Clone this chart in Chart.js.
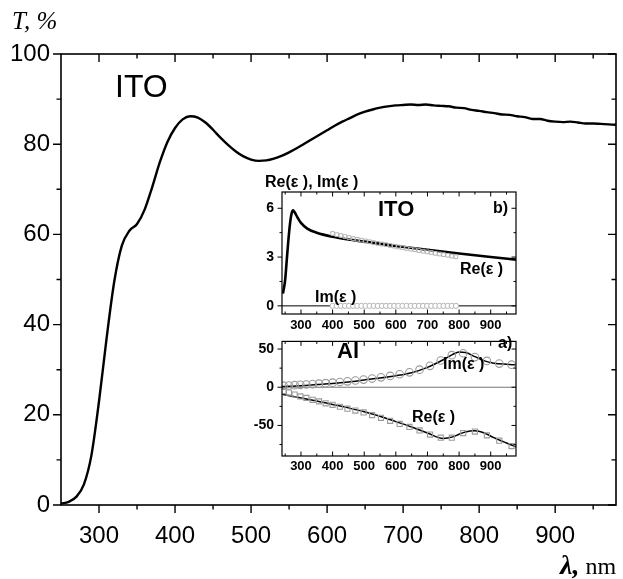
<!DOCTYPE html>
<html>
<head>
<meta charset="utf-8">
<script src="https://cdn.jsdelivr.net/npm/chart.js@4.4.1/dist/chart.umd.min.js"></script>
<style>
  html,body{margin:0;padding:0;background:#fff;}
  #wrap{position:relative;width:623px;height:579px;overflow:hidden;}
  canvas{position:absolute;}
</style>
</head>
<body>
<div id="wrap">
  <canvas id="main" width="623" height="579" style="left:0;top:0"></canvas>
  <canvas id="insB" width="310" height="175" style="left:230px;top:165px"></canvas>
  <canvas id="insA" width="310" height="155" style="left:230px;top:325px"></canvas>
</div>
<script>
// ---------------- DATA ----------------
// Main chart: transmittance of ITO film
const wavelengths = [250,260,270,280,290,300,310,320,330,340,350,360,370,380,390,400,410,420,430,440,
  450,460,470,480,490,500,510,520,530,540,550,560,570,580,590,600,610,620,630,640,
  650,660,670,680,690,700,710,720,730,740,750,760,770,780,790,800,810,820,830,840,
  850,860,870,880,890,900,910,920,930,940,950,960,970,980];
const transmittance = [0.3,0.7,1.8,4.5,11,23,37,49.5,57.5,60.8,62.3,65.5,70.5,76,80.5,83.6,85.5,86.2,85.9,84.8,
  83.2,81.4,79.8,78.4,77.3,76.6,76.3,76.4,76.8,77.4,78.2,79.1,80.1,81.1,82.1,83.1,84.1,85.0,85.8,86.6,
  87.2,87.7,88.1,88.4,88.6,88.7,88.8,88.7,88.8,88.6,88.5,88.4,88.1,88.0,87.6,87.4,87.1,86.9,86.6,86.5,
  86.2,86.0,85.6,85.6,85.2,85.0,84.9,85.0,84.8,84.6,84.6,84.5,84.4,84.3];
const mainXTicks = [300,400,500,600,700,800,900];
const mainXMinor = [350,450,550,650,750,850,950];
const mainYTicks = [0,20,40,60,80,100];
const mainYMinor = [10,30,50,70,90];

// Inset b: ITO permittivity
const itoModelLam = [243,250,255,260,265,270,275,280,290,300,320,350,400,450,500,600,700,800,900,980];
const itoModelRe  = [0.75,1.6,2.8,4.0,5.0,5.65,5.87,5.75,5.4,5.1,4.75,4.5,4.25,4.08,3.95,3.68,3.45,3.22,3.0,2.84];
const itoExpLam = [400,413,426,439,452,465,478,491,504,517,530,543,556,569,582,595,608,621,634,647,
  660,673,686,699,712,725,738,751,764,777,790];
const itoExpRe  = [4.45,4.38,4.32,4.26,4.2,4.14,4.09,4.04,3.99,3.94,3.89,3.84,3.8,3.76,3.71,3.67,3.62,3.58,3.53,3.49,
  3.45,3.4,3.36,3.32,3.28,3.23,3.19,3.15,3.11,3.06,3.02];
const itoExpIm  = [0,0,0,0,0,0,0,0,0,0,0,0,0,0,0,0,0,0,0,0,0,0,0,0,0,0,0,0,0,0,0];
const insBYTicks = [0,3,6];
const insBYMinor = [1.5,4.5];

// Inset a: Al permittivity
const alModelLam = [240,300,350,400,450,500,550,600,650,700,750,780,800,820,850,880,910,950,980];
const alModelIm  = [1,2,3.5,5,7,9.5,12,15,19,26,36,43,46,45.5,40,34.5,31.5,30,29.3];
const alModelRe  = [-9,-14,-18,-22.5,-27,-32,-38,-45,-52,-60,-67,-65,-61.5,-58.5,-57,-60,-66,-73,-78];
const alExpLam = [245,262,280,298,317,337,357,378,400,423,447,472,498,525,553,582,612,643,675,708,
  742,777,813,850,888,927,966];
const alExpIm  = [2,2.3,2.7,3.1,3.6,4.1,4.7,5.3,6,6.8,7.7,8.8,10,11.4,13,14.8,17,19.5,23,28,
  35,42,44.5,39.5,34.5,31,29.5];
const alExpRe  = [-5,-7,-9.5,-12,-14,-16.5,-18.5,-21,-23,-25.5,-28,-30.5,-33,-36.5,-40,-44,-48,-52,-56.5,-62,
  -66,-66,-60,-58,-63,-70,-77];
const insAYTicks = [-50,0,50];
const insAYMinor = [-75,-25,25];
const insXTicks = [300,400,500,600,700,800,900];
const insXMinor = [250,350,450,550,650,750,850,950];

// ---------------- PLUGINS ----------------
const frameTicks = {
  id: 'frameTicks',
  beforeDatasetsDraw(chart, args, o) {
    if (!o.zeroLine) return;
    const {ctx, chartArea: a, scales} = chart;
    const y = scales.y.getPixelForValue(0);
    ctx.save();
    ctx.strokeStyle = o.zeroColor || '#000';
    ctx.lineWidth = o.zeroWidth || 1;
    ctx.beginPath(); ctx.moveTo(a.left, y); ctx.lineTo(a.right, y); ctx.stroke();
    ctx.restore();
  },
  afterDraw(chart, args, o) {
    const {ctx, chartArea: a, scales} = chart;
    const xs = scales.x, ys = scales.y;
    ctx.save();
    ctx.strokeStyle = '#000';
    ctx.lineWidth = o.lw;
    ctx.strokeRect(a.left, a.top, a.right - a.left, a.bottom - a.top);
    ctx.lineWidth = o.tlw || o.lw;
    const side = (name, vals, len) => {
      const s = o.sides[name];
      ctx.beginPath();
      vals.forEach(v => {
        if (name === 'bottom' || name === 'top') {
          const x = xs.getPixelForValue(v);
          if (x < a.left - 0.5 || x > a.right + 0.5) return;
          const y0 = name === 'bottom' ? a.bottom : a.top;
          let sg = name === 'bottom' ? 1 : -1;
          if (s === 'in') sg = -sg;
          ctx.moveTo(x, y0); ctx.lineTo(x, y0 + sg * len);
        } else {
          const y = ys.getPixelForValue(v);
          if (y < a.top - 0.5 || y > a.bottom + 0.5) return;
          const x0 = name === 'left' ? a.left : a.right;
          let sg = name === 'left' ? -1 : 1;
          if (s === 'in') sg = -sg;
          ctx.moveTo(x0, y); ctx.lineTo(x0 + sg * len, y);
        }
      });
      ctx.stroke();
    };
    ['bottom','top'].forEach(n => { side(n, o.xMajor, o.major); side(n, o.xMinor, o.minor); });
    ['left','right'].forEach(n => { side(n, o.yMajor, o.major); side(n, o.yMinor, o.minor); });
    ctx.restore();
  }
};

const texts = {
  id: 'texts',
  afterDraw(chart, args, o) {
    const ctx = chart.ctx;
    ctx.save();
    ctx.fillStyle = '#000';
    ctx.textBaseline = 'alphabetic';
    (o.items || []).forEach(t => {
      let x = t.x;
      t.parts.forEach(p => {
        ctx.font = p.font;
        ctx.fillText(p.text, x, t.y);
        x += ctx.measureText(p.text).width + (p.gap || 0);
      });
    });
    ctx.restore();
  }
};

function fixedTicks(arr) {
  return function(scale) { scale.ticks = arr.map(v => ({value: v})); };
}

// ---------------- MAIN CHART ----------------
new Chart(document.getElementById('main'), {
  type: 'line',
  data: {
    datasets: [{
      data: wavelengths.map((w, i) => ({x: w, y: transmittance[i]})),
      borderColor: '#000', borderWidth: 2.4, pointRadius: 0,
      cubicInterpolationMode: 'monotone', fill: false
    }]
  },
  options: {
    responsive: false, animation: false,
    layout: {padding: {left: 0, top: 54, right: 7, bottom: 0}},
    plugins: {
      legend: {display: false}, tooltip: {enabled: false},
      frameTicks: {
        lw: 1.6, tlw: 1.4, major: 8, minor: 4.5,
        sides: {bottom: 'out', top: 'in', left: 'out', right: 'in'},
        xMajor: mainXTicks, xMinor: mainXMinor, yMajor: mainYTicks, yMinor: mainYMinor
      },
      texts: {items: [
        {x: 115, y: 97, parts: [{text: 'ITO', font: '32px "Liberation Sans", Arial, sans-serif'}]},
        {x: 12, y: 29, parts: [{text: 'T, %', font: 'italic 25px "Liberation Serif", "Times New Roman", serif'}]},
        {x: 560, y: 574, parts: [
          {text: 'λ,', font: 'italic bold 28px "Liberation Serif", "Times New Roman", serif', gap: 6},
          {text: 'nm', font: '24px "Liberation Serif", "Times New Roman", serif'}]}
      ]}
    },
    scales: {
      x: {
        type: 'linear', min: 250, max: 980,
        afterBuildTicks: fixedTicks(mainXTicks),
        afterFit: s => { s.height = 74; },
        grid: {display: false, drawTicks: false}, border: {display: false},
        ticks: {color: '#000', padding: 17, font: {family: '"Liberation Sans", Arial, sans-serif', size: 24}, maxRotation: 0}
      },
      y: {
        type: 'linear', min: 0, max: 100,
        afterBuildTicks: fixedTicks(mainYTicks),
        afterFit: s => { s.width = 61; },
        grid: {display: false, drawTicks: false}, border: {display: false},
        ticks: {color: '#000', padding: 11, font: {family: '"Liberation Sans", Arial, sans-serif', size: 24}}
      }
    }
  },
  plugins: [frameTicks, texts]
});

// ---------------- INSET b (ITO) ----------------
const boldFont = (sz) => 'bold ' + sz + 'px "Liberation Sans", Arial, sans-serif';
new Chart(document.getElementById('insB'), {
  type: 'line',
  data: {
    datasets: [
      {data: itoExpLam.map((w, i) => ({x: w, y: itoExpRe[i]})), showLine: false,
       pointStyle: 'rect', pointRadius: 2.6, borderColor: '#b4b4b4', backgroundColor: 'rgba(255,255,255,0)', borderWidth: 1},
      {data: itoExpLam.map((w, i) => ({x: w, y: itoExpIm[i]})), showLine: false,
       pointStyle: 'circle', pointRadius: 2.6, borderColor: '#b4b4b4', backgroundColor: '#fff', borderWidth: 1},
      {data: itoModelLam.map((w, i) => ({x: w, y: itoModelRe[i]})), borderColor: '#000', borderWidth: 2.6,
       pointRadius: 0, cubicInterpolationMode: 'monotone', fill: false}
    ]
  },
  options: {
    responsive: false, animation: false,
    layout: {padding: {left: 0, top: 27, right: 24, bottom: 0}},
    plugins: {
      legend: {display: false}, tooltip: {enabled: false},
      frameTicks: {
        lw: 1.2, tlw: 1, major: 4.5, minor: 2.5, zeroLine: true, zeroColor: '#000', zeroWidth: 1,
        sides: {bottom: 'in', top: 'in', left: 'out', right: 'in'},
        xMajor: insXTicks, xMinor: insXMinor, yMajor: insBYTicks, yMinor: insBYMinor
      },
      texts: {items: [
        {x: 35, y: 22, parts: [{text: 'Re(ε ), Im(ε )', font: boldFont(16)}]},
        {x: 148, y: 51, parts: [{text: 'ITO', font: boldFont(22)}]},
        {x: 263, y: 48, parts: [{text: 'b)', font: boldFont(16)}]},
        {x: 230, y: 109, parts: [{text: 'Re(ε )', font: boldFont(16)}]},
        {x: 85, y: 137, parts: [{text: 'Im(ε )', font: boldFont(16)}]}
      ]}
    },
    scales: {
      x: {
        type: 'linear', min: 240, max: 980,
        afterBuildTicks: fixedTicks(insXTicks),
        afterFit: s => { s.height = 26; },
        grid: {display: false, drawTicks: false}, border: {display: false},
        ticks: {color: '#000', padding: 4, font: {family: '"Liberation Sans", Arial, sans-serif', size: 13, weight: 'bold'}, maxRotation: 0}
      },
      y: {
        type: 'linear', min: -0.5, max: 7,
        afterBuildTicks: fixedTicks(insBYTicks),
        afterFit: s => { s.width = 52; },
        grid: {display: false, drawTicks: false}, border: {display: false},
        ticks: {color: '#000', padding: 8, font: {family: '"Liberation Sans", Arial, sans-serif', size: 14, weight: 'bold'}}
      }
    }
  },
  plugins: [frameTicks, texts]
});

// ---------------- INSET a (Al) ----------------
new Chart(document.getElementById('insA'), {
  type: 'line',
  data: {
    datasets: [
      {data: alExpLam.map((w, i) => ({x: w, y: alExpIm[i]})), showLine: false,
       pointStyle: 'circle', pointRadius: 3.8, borderColor: '#9a9a9a', backgroundColor: 'rgba(255,255,255,0)', borderWidth: 1.1},
      {data: alExpLam.map((w, i) => ({x: w, y: alExpRe[i]})), showLine: false,
       pointStyle: 'rect', pointRadius: 3.6, borderColor: '#9a9a9a', backgroundColor: 'rgba(255,255,255,0)', borderWidth: 1.1},
      {data: alModelLam.map((w, i) => ({x: w, y: alModelIm[i]})), borderColor: '#000', borderWidth: 1.5,
       pointRadius: 0, cubicInterpolationMode: 'monotone', fill: false},
      {data: alModelLam.map((w, i) => ({x: w, y: alModelRe[i]})), borderColor: '#000', borderWidth: 1.5,
       pointRadius: 0, cubicInterpolationMode: 'monotone', fill: false}
    ]
  },
  options: {
    responsive: false, animation: false,
    layout: {padding: {left: 0, top: 8, right: 24, bottom: 0}},
    plugins: {
      legend: {display: false}, tooltip: {enabled: false},
      frameTicks: {
        lw: 1.2, tlw: 1, major: 4.5, minor: 2.5, zeroLine: true, zeroColor: '#777', zeroWidth: 1,
        sides: {bottom: 'in', top: 'in', left: 'out', right: 'in'},
        xMajor: insXTicks, xMinor: insXMinor, yMajor: insAYTicks, yMinor: insAYMinor
      },
      texts: {items: [
        {x: 107, y: 33, parts: [{text: 'Al', font: boldFont(22)}]},
        {x: 268, y: 23, parts: [{text: 'a)', font: boldFont(16)}]},
        {x: 213, y: 44, parts: [{text: 'Im(ε )', font: boldFont(16)}]},
        {x: 182, y: 97, parts: [{text: 'Re(ε )', font: boldFont(16)}]}
      ]}
    },
    scales: {
      x: {
        type: 'linear', min: 240, max: 980,
        afterBuildTicks: fixedTicks(insXTicks),
        afterFit: s => { s.height = 24; },
        grid: {display: false, drawTicks: false}, border: {display: false},
        ticks: {color: '#000', padding: 3, font: {family: '"Liberation Sans", Arial, sans-serif', size: 13, weight: 'bold'}, maxRotation: 0}
      },
      y: {
        type: 'linear', min: -90, max: 60,
        afterBuildTicks: fixedTicks(insAYTicks),
        afterFit: s => { s.width = 52; },
        grid: {display: false, drawTicks: false}, border: {display: false},
        ticks: {color: '#000', padding: 8, font: {family: '"Liberation Sans", Arial, sans-serif', size: 14, weight: 'bold'}}
      }
    }
  },
  plugins: [frameTicks, texts]
});
</script>
</body>
</html>
